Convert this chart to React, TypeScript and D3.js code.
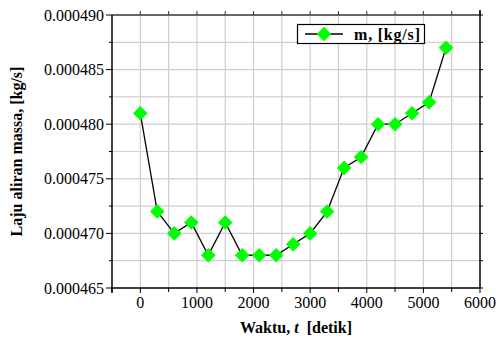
import React from "react";
import * as d3 from "d3";

// waktu (detik) dan laju aliran massa (kg/s)
const times = [0, 300, 600, 900, 1200, 1500, 1800, 2100, 2400, 2700, 3000, 3300, 3600, 3900, 4200, 4500, 4800, 5100, 5400];
const massFlow = [
  0.000481, 0.000472, 0.00047, 0.000471, 0.000468, 0.000471, 0.000468, 0.000468, 0.000468, 0.000469,
  0.00047, 0.000472, 0.000476, 0.000477, 0.00048, 0.00048, 0.000481, 0.000482, 0.000487,
];
const xMajorTicks = [0, 1000, 2000, 3000, 4000, 5000, 6000];
const xMinorTicks = [-500, 500, 1500, 2500, 3500, 4500, 5500];
const yMajorTicks = [0.000465, 0.00047, 0.000475, 0.00048, 0.000485, 0.00049];
const yMinorTicks = [0.0004675, 0.0004725, 0.0004775, 0.0004825, 0.0004875];
const legendLabel = "m, [kg/s]";

const W = 496;
const H = 340;
const left = 112, right = 480, top = 15, bottom = 288;
const font = "'Liberation Serif', 'Times New Roman', serif";

const diamond = (cx: number, cy: number, r: number) =>
  `M${cx},${cy - r}L${cx + r},${cy}L${cx},${cy + r}L${cx - r},${cy}Z`;

export default function App() {
  const x = d3.scaleLinear().domain([-500, 6000]).range([left, right]);
  const y = d3.scaleLinear().domain([0.000465, 0.00049]).range([bottom, top]);

  const line = d3
    .line<number>()
    .x((_, i) => x(times[i]))
    .y((d) => y(d));

  const gridX = [...xMajorTicks, ...xMinorTicks].filter((t) => t > -500 && t < 6000);
  const gridY = [...yMajorTicks, ...yMinorTicks].filter((t) => t > 0.000465 && t < 0.00049);

  return (
    <svg width={W} height={H} style={{ position: "absolute", left: 0, top: 0, background: "#fff" }}>
      <rect width={W} height={H} fill="#fff" />
      {/* grid */}
      <g stroke="#cfcfcf" strokeWidth={1.2}>
        {gridX.map((t) => (
          <line key={"gx" + t} x1={x(t)} x2={x(t)} y1={top} y2={bottom} />
        ))}
        {gridY.map((t) => (
          <line key={"gy" + t} x1={left} x2={right} y1={y(t)} y2={y(t)} />
        ))}
      </g>

      {/* data line and markers */}
      <path d={line(massFlow) || ""} fill="none" stroke="#000" strokeWidth={1.3} />
      {massFlow.map((v, i) => (
        <path key={"m" + i} d={diamond(x(times[i]), y(v), 7.3)} fill="#00ff00" />
      ))}

      {/* top axis */}
      <line x1={left} x2={right} y1={top} y2={top} stroke="#666" strokeWidth={2} />
      {[...xMajorTicks, ...xMinorTicks].filter((t) => t > -500).map((t) => (
        <line key={"tt" + t} x1={x(t)} x2={x(t)} y1={top} y2={top - 4} stroke="#333" strokeWidth={1} />
      ))}
      {/* right axis */}
      <line x1={right} x2={right} y1={10} y2={bottom} stroke="#000" strokeWidth={1.5} />
      {[...yMajorTicks, ...yMinorTicks].map((t) => (
        <line key={"rt" + t} x1={right} x2={right + 3} y1={y(t)} y2={y(t)} stroke="#000" strokeWidth={1} />
      ))}

      {/* bottom axis */}
      <line x1={left} x2={right} y1={bottom} y2={bottom} stroke="#000" strokeWidth={1.5} />
      {xMajorTicks.map((t) => (
        <g key={"bx" + t}>
          <line x1={x(t)} x2={x(t)} y1={bottom} y2={bottom + 5} stroke="#000" strokeWidth={1} />
          <text x={x(t)} y={bottom + 20} textAnchor="middle" fontFamily={font} fontSize={16} fill="#000">
            {t}
          </text>
        </g>
      ))}
      {xMinorTicks.map((t) => (
        <line key={"bm" + t} x1={x(t)} x2={x(t)} y1={bottom} y2={bottom + 4} stroke="#000" strokeWidth={1} />
      ))}

      {/* left axis */}
      <line x1={left} x2={left} y1={top} y2={bottom + 5} stroke="#000" strokeWidth={1.5} />
      {yMajorTicks.map((t) => (
        <g key={"ly" + t}>
          <line x1={left - 6} x2={left} y1={y(t)} y2={y(t)} stroke="#000" strokeWidth={1} />
          <text x={left - 8} y={y(t)} dy="0.35em" textAnchor="end" fontFamily={font} fontSize={16} fill="#000">
            {t.toFixed(6)}
          </text>
        </g>
      ))}
      {yMinorTicks.map((t) => (
        <line key={"lm" + t} x1={left - 3} x2={left} y1={y(t)} y2={y(t)} stroke="#000" strokeWidth={1} />
      ))}

      {/* axis titles */}
      <text x={(left + right) / 2} y={333} textAnchor="middle" fontFamily={font} fontSize={16} fontWeight="bold" fill="#000">
        Waktu, <tspan fontStyle="italic">t</tspan>{"\u00a0\u00a0"}[detik]
      </text>
      <text
        transform={`translate(22, ${(top + bottom) / 2}) rotate(-90)`}
        textAnchor="middle"
        fontFamily={font}
        fontSize={16}
        fontWeight="bold"
        fill="#000"
      >
        Laju aliran massa, [kg/s]
      </text>

      {/* legend */}
      <rect x={297.5} y={24.5} width={127} height={19} fill="#fff" stroke="#000" strokeWidth={1.2} />
      <line x1={305} x2={343} y1={34} y2={34} stroke="#000" strokeWidth={1.3} />
      <path d={diamond(324, 34, 7.3)} fill="#00ff00" />
      <text x={354} y={40} fontFamily={font} fontSize={16} fontWeight="bold" fill="#000" letterSpacing={0.8}>
        {legendLabel}
      </text>
    </svg>
  );
}
